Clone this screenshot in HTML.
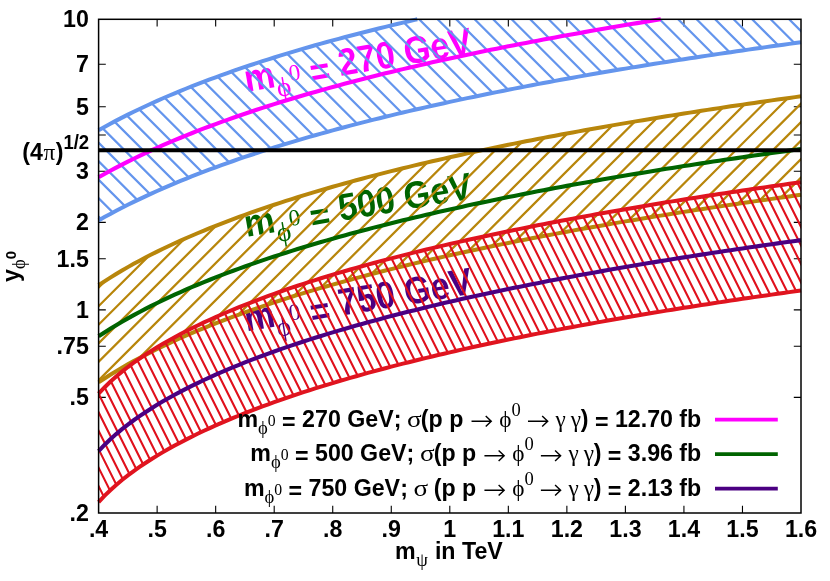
<!DOCTYPE html>
<html><head><meta charset="utf-8"><title>plot</title>
<style>
html,body{margin:0;padding:0;background:#fff;}
svg{display:block;will-change:transform;}
text{fill:#000;}
</style></head><body>
<svg width="830" height="581" viewBox="0 0 830 581">
<rect width="830" height="581" fill="#fff"/>
<defs>
<clipPath id="plot"><rect x="98.6" y="19.3" width="702.4" height="493.7"/></clipPath>
<clipPath id="plotw"><rect x="95.6" y="16.3" width="708.4" height="499.7"/></clipPath>
<clipPath id="cb"><path d="M92.75,133.57 L98.60,130.20 L104.45,126.92 L110.31,123.73 L116.16,120.62 L122.01,117.60 L127.87,114.64 L133.72,111.76 L139.57,108.94 L145.43,106.19 L151.28,103.50 L157.13,100.86 L162.99,98.29 L168.84,95.76 L174.69,93.29 L180.55,90.87 L186.40,88.49 L192.25,86.16 L198.11,83.87 L203.96,81.63 L209.81,79.42 L215.67,77.26 L221.52,75.13 L227.37,73.04 L233.23,70.98 L239.08,68.96 L244.93,66.97 L250.79,65.01 L256.64,63.08 L262.49,61.18 L268.35,59.31 L274.20,57.47 L280.05,55.65 L285.91,53.86 L291.76,52.10 L297.61,50.36 L303.47,48.65 L309.32,46.96 L315.17,45.29 L321.03,43.64 L326.88,42.02 L332.73,40.42 L338.59,38.83 L344.44,37.27 L350.29,35.73 L356.15,34.20 L362.00,32.70 L367.85,31.21 L373.71,29.74 L379.56,28.28 L385.41,26.85 L391.27,25.43 L397.12,24.02 L402.97,22.63 L408.83,21.26 L414.68,19.90 L420.53,18.56 L426.39,17.23 L432.24,15.92 L438.09,14.61 L443.95,13.33 L449.80,12.05 L455.65,10.79 L461.51,9.54 L467.36,8.30 L473.21,7.08 L479.07,5.87 L484.92,4.66 L490.77,3.48 L496.63,2.30 L502.48,1.13 L508.33,-0.03 L514.19,-1.17 L520.04,-2.31 L525.89,-3.43 L531.75,-4.55 L537.60,-5.65 L543.45,-6.75 L549.31,-7.84 L555.16,-8.91 L561.01,-9.98 L566.87,-11.04 L572.72,-12.09 L578.57,-13.13 L584.43,-14.16 L590.28,-15.19 L596.13,-16.20 L601.99,-17.21 L607.84,-18.21 L613.69,-19.20 L619.55,-20.18 L625.40,-21.16 L631.25,-22.13 L637.11,-23.09 L642.96,-24.04 L648.81,-24.99 L654.67,-25.93 L660.52,-26.86 L666.37,-27.79 L672.23,-28.71 L678.08,-29.62 L683.93,-30.52 L689.79,-31.42 L695.64,-32.31 L701.49,-33.20 L707.35,-34.08 L713.20,-34.95 L719.05,-35.82 L724.91,-36.68 L730.76,-37.54 L736.61,-38.39 L742.47,-39.23 L748.32,-40.07 L754.17,-40.90 L760.03,-41.73 L765.88,-42.55 L771.73,-43.37 L777.59,-44.18 L783.44,-44.99 L789.29,-45.79 L795.15,-46.59 L801.00,-47.38 L806.85,-48.16 L806.85,41.51 L801.00,42.30 L795.15,43.09 L789.29,43.89 L783.44,44.70 L777.59,45.50 L771.73,46.32 L765.88,47.14 L760.03,47.96 L754.17,48.79 L748.32,49.63 L742.47,50.47 L736.61,51.32 L730.76,52.17 L724.91,53.03 L719.05,53.89 L713.20,54.76 L707.35,55.64 L701.49,56.52 L695.64,57.41 L689.79,58.30 L683.93,59.21 L678.08,60.11 L672.23,61.03 L666.37,61.95 L660.52,62.88 L654.67,63.81 L648.81,64.75 L642.96,65.70 L637.11,66.66 L631.25,67.62 L625.40,68.60 L619.55,69.57 L613.69,70.56 L607.84,71.56 L601.99,72.56 L596.13,73.57 L590.28,74.59 L584.43,75.61 L578.57,76.65 L572.72,77.69 L566.87,78.75 L561.01,79.81 L555.16,80.88 L549.31,81.96 L543.45,83.05 L537.60,84.15 L531.75,85.26 L525.89,86.37 L520.04,87.50 L514.19,88.64 L508.33,89.79 L502.48,90.95 L496.63,92.12 L490.77,93.30 L484.92,94.50 L479.07,95.70 L473.21,96.92 L467.36,98.15 L461.51,99.39 L455.65,100.64 L449.80,101.91 L443.95,103.18 L438.09,104.48 L432.24,105.78 L426.39,107.10 L420.53,108.43 L414.68,109.78 L408.83,111.14 L402.97,112.52 L397.12,113.91 L391.27,115.32 L385.41,116.75 L379.56,118.19 L373.71,119.64 L367.85,121.12 L362.00,122.61 L356.15,124.12 L350.29,125.65 L344.44,127.20 L338.59,128.77 L332.73,130.35 L326.88,131.96 L321.03,133.59 L315.17,135.24 L309.32,136.92 L303.47,138.61 L297.61,140.33 L291.76,142.07 L285.91,143.84 L280.05,145.64 L274.20,147.46 L268.35,149.30 L262.49,151.18 L256.64,153.08 L250.79,155.02 L244.93,156.98 L239.08,158.98 L233.23,161.01 L227.37,163.07 L221.52,165.17 L215.67,167.30 L209.81,169.48 L203.96,171.69 L198.11,173.94 L192.25,176.23 L186.40,178.57 L180.55,180.95 L174.69,183.38 L168.84,185.86 L162.99,188.39 L157.13,190.98 L151.28,193.62 L145.43,196.32 L139.57,199.08 L133.72,201.90 L127.87,204.80 L122.01,207.76 L116.16,210.80 L110.31,213.91 L104.45,217.11 L98.60,220.40 L92.75,223.78 Z"/></clipPath>
<clipPath id="cg"><path d="M92.75,289.22 L98.60,285.20 L104.45,281.33 L110.31,277.60 L116.16,274.00 L122.01,270.51 L127.87,267.13 L133.72,263.86 L139.57,260.67 L145.43,257.58 L151.28,254.57 L157.13,251.64 L162.99,248.78 L168.84,246.00 L174.69,243.28 L180.55,240.62 L186.40,238.02 L192.25,235.49 L198.11,233.00 L203.96,230.57 L209.81,228.19 L215.67,225.85 L221.52,223.56 L227.37,221.31 L233.23,219.11 L239.08,216.95 L244.93,214.82 L250.79,212.74 L256.64,210.68 L262.49,208.67 L268.35,206.68 L274.20,204.73 L280.05,202.81 L285.91,200.92 L291.76,199.06 L297.61,197.23 L303.47,195.43 L309.32,193.65 L315.17,191.90 L321.03,190.17 L326.88,188.47 L332.73,186.79 L338.59,185.13 L344.44,183.50 L350.29,181.89 L356.15,180.29 L362.00,178.72 L367.85,177.17 L373.71,175.64 L379.56,174.13 L385.41,172.63 L391.27,171.16 L397.12,169.70 L402.97,168.26 L408.83,166.83 L414.68,165.42 L420.53,164.03 L426.39,162.65 L432.24,161.29 L438.09,159.94 L443.95,158.61 L449.80,157.29 L455.65,155.99 L461.51,154.70 L467.36,153.42 L473.21,152.15 L479.07,150.90 L484.92,149.66 L490.77,148.44 L496.63,147.22 L502.48,146.02 L508.33,144.83 L514.19,143.65 L520.04,142.48 L525.89,141.32 L531.75,140.17 L537.60,139.03 L543.45,137.91 L549.31,136.79 L555.16,135.68 L561.01,134.59 L566.87,133.50 L572.72,132.42 L578.57,131.35 L584.43,130.29 L590.28,129.24 L596.13,128.20 L601.99,127.16 L607.84,126.14 L613.69,125.12 L619.55,124.11 L625.40,123.11 L631.25,122.12 L637.11,121.14 L642.96,120.16 L648.81,119.19 L654.67,118.23 L660.52,117.27 L666.37,116.33 L672.23,115.38 L678.08,114.45 L683.93,113.53 L689.79,112.61 L695.64,111.69 L701.49,110.79 L707.35,109.89 L713.20,108.99 L719.05,108.11 L724.91,107.22 L730.76,106.35 L736.61,105.48 L742.47,104.62 L748.32,103.76 L754.17,102.91 L760.03,102.06 L765.88,101.22 L771.73,100.39 L777.59,99.56 L783.44,98.74 L789.29,97.92 L795.15,97.11 L801.00,96.30 L806.85,95.50 L806.85,194.00 L801.00,194.80 L795.15,195.60 L789.29,196.41 L783.44,197.22 L777.59,198.04 L771.73,198.86 L765.88,199.69 L760.03,200.52 L754.17,201.36 L748.32,202.20 L742.47,203.05 L736.61,203.91 L730.76,204.77 L724.91,205.64 L719.05,206.51 L713.20,207.39 L707.35,208.28 L701.49,209.17 L695.64,210.07 L689.79,210.98 L683.93,211.89 L678.08,212.81 L672.23,213.74 L666.37,214.67 L660.52,215.61 L654.67,216.56 L648.81,217.51 L642.96,218.47 L637.11,219.44 L631.25,220.42 L625.40,221.40 L619.55,222.40 L613.69,223.40 L607.84,224.41 L601.99,225.42 L596.13,226.45 L590.28,227.48 L584.43,228.53 L578.57,229.58 L572.72,230.64 L566.87,231.71 L561.01,232.79 L555.16,233.88 L549.31,234.97 L543.45,236.08 L537.60,237.20 L531.75,238.33 L525.89,239.47 L520.04,240.62 L514.19,241.78 L508.33,242.95 L502.48,244.13 L496.63,245.32 L490.77,246.53 L484.92,247.75 L479.07,248.98 L473.21,250.22 L467.36,251.47 L461.51,252.74 L455.65,254.02 L449.80,255.32 L443.95,256.63 L438.09,257.95 L432.24,259.28 L426.39,260.64 L420.53,262.00 L414.68,263.39 L408.83,264.78 L402.97,266.20 L397.12,267.63 L391.27,269.08 L385.41,270.54 L379.56,272.02 L373.71,273.53 L367.85,275.05 L362.00,276.58 L356.15,278.14 L350.29,279.72 L344.44,281.32 L338.59,282.95 L332.73,284.59 L326.88,286.26 L321.03,287.95 L315.17,289.66 L309.32,291.40 L303.47,293.16 L297.61,294.95 L291.76,296.77 L285.91,298.62 L280.05,300.49 L274.20,302.40 L268.35,304.33 L262.49,306.30 L256.64,308.30 L250.79,310.34 L244.93,312.41 L239.08,314.52 L233.23,316.67 L227.37,318.86 L221.52,321.09 L215.67,323.36 L209.81,325.68 L203.96,328.04 L198.11,330.46 L192.25,332.92 L186.40,335.45 L180.55,338.02 L174.69,340.66 L168.84,343.36 L162.99,346.13 L157.13,348.97 L151.28,351.88 L145.43,354.86 L139.57,357.94 L133.72,361.10 L127.87,364.35 L122.01,367.71 L116.16,371.17 L110.31,374.75 L104.45,378.46 L98.60,382.30 L92.75,386.29 Z"/></clipPath>
<clipPath id="cr"><path d="M92.75,400.72 L98.60,393.70 L104.45,387.46 L110.31,381.79 L116.16,376.55 L122.01,371.65 L127.87,367.05 L133.72,362.70 L139.57,358.57 L145.43,354.63 L151.28,350.85 L157.13,347.23 L162.99,343.75 L168.84,340.40 L174.69,337.16 L180.55,334.03 L186.40,330.99 L192.25,328.05 L198.11,325.19 L203.96,322.41 L209.81,319.70 L215.67,317.07 L221.52,314.50 L227.37,311.99 L233.23,309.54 L239.08,307.15 L244.93,304.81 L250.79,302.52 L256.64,300.28 L262.49,298.09 L268.35,295.94 L274.20,293.83 L280.05,291.76 L285.91,289.73 L291.76,287.73 L297.61,285.77 L303.47,283.85 L309.32,281.95 L315.17,280.09 L321.03,278.26 L326.88,276.46 L332.73,274.69 L338.59,272.94 L344.44,271.23 L350.29,269.53 L356.15,267.86 L362.00,266.22 L367.85,264.60 L373.71,263.00 L379.56,261.42 L385.41,259.87 L391.27,258.33 L397.12,256.82 L402.97,255.32 L408.83,253.85 L414.68,252.39 L420.53,250.95 L426.39,249.53 L432.24,248.12 L438.09,246.74 L443.95,245.36 L449.80,244.01 L455.65,242.67 L461.51,241.34 L467.36,240.03 L473.21,238.73 L479.07,237.45 L484.92,236.18 L490.77,234.93 L496.63,233.68 L502.48,232.46 L508.33,231.24 L514.19,230.03 L520.04,228.84 L525.89,227.66 L531.75,226.49 L537.60,225.33 L543.45,224.19 L549.31,223.05 L555.16,221.93 L561.01,220.81 L566.87,219.71 L572.72,218.61 L578.57,217.53 L584.43,216.46 L590.28,215.39 L596.13,214.33 L601.99,213.29 L607.84,212.25 L613.69,211.22 L619.55,210.20 L625.40,209.19 L631.25,208.19 L637.11,207.19 L642.96,206.20 L648.81,205.23 L654.67,204.25 L660.52,203.29 L666.37,202.34 L672.23,201.39 L678.08,200.45 L683.93,199.51 L689.79,198.59 L695.64,197.67 L701.49,196.75 L707.35,195.85 L713.20,194.95 L719.05,194.06 L724.91,193.17 L730.76,192.29 L736.61,191.42 L742.47,190.55 L748.32,189.69 L754.17,188.83 L760.03,187.98 L765.88,187.14 L771.73,186.30 L777.59,185.47 L783.44,184.65 L789.29,183.83 L795.15,183.01 L801.00,182.20 L806.85,181.40 L806.85,289.70 L801.00,290.50 L795.15,291.31 L789.29,292.13 L783.44,292.95 L777.59,293.77 L771.73,294.61 L765.88,295.44 L760.03,296.29 L754.17,297.14 L748.32,297.99 L742.47,298.85 L736.61,299.72 L730.76,300.60 L724.91,301.48 L719.05,302.36 L713.20,303.26 L707.35,304.16 L701.49,305.06 L695.64,305.98 L689.79,306.90 L683.93,307.82 L678.08,308.76 L672.23,309.70 L666.37,310.65 L660.52,311.60 L654.67,312.57 L648.81,313.54 L642.96,314.52 L637.11,315.51 L631.25,316.50 L625.40,317.50 L619.55,318.52 L613.69,319.54 L607.84,320.57 L601.99,321.61 L596.13,322.65 L590.28,323.71 L584.43,324.77 L578.57,325.85 L572.72,326.93 L566.87,328.03 L561.01,329.13 L555.16,330.25 L549.31,331.38 L543.45,332.51 L537.60,333.66 L531.75,334.82 L525.89,335.99 L520.04,337.17 L514.19,338.36 L508.33,339.57 L502.48,340.78 L496.63,342.01 L490.77,343.26 L484.92,344.51 L479.07,345.78 L473.21,347.06 L467.36,348.36 L461.51,349.67 L455.65,351.00 L449.80,352.34 L443.95,353.70 L438.09,355.07 L432.24,356.46 L426.39,357.87 L420.53,359.29 L414.68,360.73 L408.83,362.19 L402.97,363.66 L397.12,365.16 L391.27,366.67 L385.41,368.21 L379.56,369.77 L373.71,371.34 L367.85,372.94 L362.00,374.57 L356.15,376.21 L350.29,377.88 L344.44,379.57 L338.59,381.29 L332.73,383.04 L326.88,384.81 L321.03,386.62 L315.17,388.45 L309.32,390.31 L303.47,392.20 L297.61,394.13 L291.76,396.09 L285.91,398.08 L280.05,400.12 L274.20,402.19 L268.35,404.30 L262.49,406.45 L256.64,408.65 L250.79,410.89 L244.93,413.18 L239.08,415.52 L233.23,417.91 L227.37,420.36 L221.52,422.87 L215.67,425.44 L209.81,428.08 L203.96,430.78 L198.11,433.56 L192.25,436.42 L186.40,439.37 L180.55,442.40 L174.69,445.54 L168.84,448.78 L162.99,452.14 L157.13,455.62 L151.28,459.24 L145.43,463.01 L139.57,466.96 L133.72,471.09 L127.87,475.44 L122.01,480.05 L116.16,484.94 L110.31,490.19 L104.45,495.86 L98.60,502.10 L92.75,509.12 Z"/></clipPath>
</defs>
<path d="M157.13,513.00 v-7.2 M157.13,19.30 v7.2 M215.67,513.00 v-7.2 M215.67,19.30 v7.2 M274.20,513.00 v-7.2 M274.20,19.30 v7.2 M332.73,513.00 v-7.2 M332.73,19.30 v7.2 M391.27,513.00 v-7.2 M391.27,19.30 v7.2 M449.80,513.00 v-7.2 M449.80,19.30 v7.2 M508.33,513.00 v-7.2 M508.33,19.30 v7.2 M566.87,513.00 v-7.2 M566.87,19.30 v7.2 M625.40,513.00 v-7.2 M625.40,19.30 v7.2 M683.93,513.00 v-7.2 M683.93,19.30 v7.2 M742.47,513.00 v-7.2 M742.47,19.30 v7.2 M98.60,64.31 h7.2 M801.00,64.31 h-7.2 M98.60,106.78 h7.2 M801.00,106.78 h-7.2 M98.60,134.94 h7.2 M801.00,134.94 h-7.2 M98.60,171.24 h7.2 M801.00,171.24 h-7.2 M98.60,222.41 h7.2 M801.00,222.41 h-7.2 M98.60,258.72 h7.2 M801.00,258.72 h-7.2 M98.60,309.89 h7.2 M801.00,309.89 h-7.2 M98.60,346.19 h7.2 M801.00,346.19 h-7.2 M98.60,397.36 h7.2 M801.00,397.36 h-7.2" stroke="#000" stroke-width="1.1" fill="none"/>
<g transform="translate(246.5,92.1) rotate(-9.70)"><text transform="translate(0.00,0.00) scale(1,1.110)" style="font-family:'Liberation Sans',sans-serif;font-weight:bold;font-size:34.22px;fill:#ff00ff">m</text>
<text x="37.56" y="10.27" text-anchor="middle" style="font-family:'Liberation Serif',serif;font-weight:normal;font-size:27.38px;fill:#ff00ff">ϕ</text>
<text x="50.51" y="-3.42" text-anchor="middle" style="font-family:'Liberation Serif',serif;font-weight:normal;font-size:23.27px;fill:#ff00ff">0</text>
<text transform="translate(56.32,0.00) scale(1,1.110)" style="font-family:'Liberation Sans',sans-serif;font-weight:bold;font-size:34.22px;fill:#ff00ff"> </text>
<text transform="translate(65.83,4.79) scale(1,1.110)" style="font-family:'Liberation Sans',sans-serif;font-weight:bold;font-size:34.22px;fill:#ff00ff">=</text>
<text transform="translate(85.82,0.00) scale(1,1.110)" style="font-family:'Liberation Sans',sans-serif;font-weight:bold;font-size:34.22px;fill:#ff00ff"> 270 GeV</text></g><g transform="translate(246.5,237.1) rotate(-9.70)"><text transform="translate(0.00,0.00) scale(1,1.110)" style="font-family:'Liberation Sans',sans-serif;font-weight:bold;font-size:34.22px;fill:#006400">m</text>
<text x="37.56" y="10.27" text-anchor="middle" style="font-family:'Liberation Serif',serif;font-weight:normal;font-size:27.38px;fill:#006400">ϕ</text>
<text x="50.51" y="-3.42" text-anchor="middle" style="font-family:'Liberation Serif',serif;font-weight:normal;font-size:23.27px;fill:#006400">0</text>
<text transform="translate(56.32,0.00) scale(1,1.110)" style="font-family:'Liberation Sans',sans-serif;font-weight:bold;font-size:34.22px;fill:#006400"> </text>
<text transform="translate(65.83,4.79) scale(1,1.110)" style="font-family:'Liberation Sans',sans-serif;font-weight:bold;font-size:34.22px;fill:#006400">=</text>
<text transform="translate(85.82,0.00) scale(1,1.110)" style="font-family:'Liberation Sans',sans-serif;font-weight:bold;font-size:34.22px;fill:#006400"> 500 GeV</text></g><g transform="translate(246.5,331.6) rotate(-9.50)"><text transform="translate(0.00,0.00) scale(1,1.110)" style="font-family:'Liberation Sans',sans-serif;font-weight:bold;font-size:34.22px;fill:#4b0082">m</text>
<text x="37.56" y="10.27" text-anchor="middle" style="font-family:'Liberation Serif',serif;font-weight:normal;font-size:27.38px;fill:#4b0082">ϕ</text>
<text x="50.51" y="-3.42" text-anchor="middle" style="font-family:'Liberation Serif',serif;font-weight:normal;font-size:23.27px;fill:#4b0082">0</text>
<text transform="translate(56.32,0.00) scale(1,1.110)" style="font-family:'Liberation Sans',sans-serif;font-weight:bold;font-size:34.22px;fill:#4b0082"> </text>
<text transform="translate(65.83,4.79) scale(1,1.110)" style="font-family:'Liberation Sans',sans-serif;font-weight:bold;font-size:34.22px;fill:#4b0082">=</text>
<text transform="translate(85.82,0.00) scale(1,1.110)" style="font-family:'Liberation Sans',sans-serif;font-weight:bold;font-size:34.22px;fill:#4b0082"> 750 GeV</text></g>
<g clip-path="url(#plot)"><g clip-path="url(#cb)"><path d="M93.60,-713.30 L806.00,-0.90 M93.60,-694.80 L806.00,17.60 M93.60,-676.30 L806.00,36.10 M93.60,-657.80 L806.00,54.60 M93.60,-639.30 L806.00,73.10 M93.60,-620.80 L806.00,91.60 M93.60,-602.30 L806.00,110.10 M93.60,-583.80 L806.00,128.60 M93.60,-565.30 L806.00,147.10 M93.60,-546.80 L806.00,165.60 M93.60,-528.30 L806.00,184.10 M93.60,-509.80 L806.00,202.60 M93.60,-491.30 L806.00,221.10 M93.60,-472.80 L806.00,239.60 M93.60,-454.30 L806.00,258.10 M93.60,-435.80 L806.00,276.60 M93.60,-417.30 L806.00,295.10 M93.60,-398.80 L806.00,313.60 M93.60,-380.30 L806.00,332.10 M93.60,-361.80 L806.00,350.60 M93.60,-343.30 L806.00,369.10 M93.60,-324.80 L806.00,387.60 M93.60,-306.30 L806.00,406.10 M93.60,-287.80 L806.00,424.60 M93.60,-269.30 L806.00,443.10 M93.60,-250.80 L806.00,461.60 M93.60,-232.30 L806.00,480.10 M93.60,-213.80 L806.00,498.60 M93.60,-195.30 L806.00,517.10 M93.60,-176.80 L806.00,535.60 M93.60,-158.30 L806.00,554.10 M93.60,-139.80 L806.00,572.60 M93.60,-121.30 L806.00,591.10 M93.60,-102.80 L806.00,609.60 M93.60,-84.30 L806.00,628.10 M93.60,-65.80 L806.00,646.60 M93.60,-47.30 L806.00,665.10 M93.60,-28.80 L806.00,683.60 M93.60,-10.30 L806.00,702.10 M93.60,8.20 L806.00,720.60 M93.60,26.70 L806.00,739.10 M93.60,45.20 L806.00,757.60 M93.60,63.70 L806.00,776.10 M93.60,82.20 L806.00,794.60 M93.60,100.70 L806.00,813.10 M93.60,119.20 L806.00,831.60 M93.60,137.70 L806.00,850.10 M93.60,156.20 L806.00,868.60 M93.60,174.70 L806.00,887.10 M93.60,193.20 L806.00,905.60 M93.60,211.70 L806.00,924.10 M93.60,230.20 L806.00,942.60 M93.60,248.70 L806.00,961.10 M93.60,267.20 L806.00,979.60 M93.60,285.70 L806.00,998.10 M93.60,304.20 L806.00,1016.60 M93.60,322.70 L806.00,1035.10 M93.60,341.20 L806.00,1053.60 M93.60,359.70 L806.00,1072.10 M93.60,378.20 L806.00,1090.60 M93.60,396.70 L806.00,1109.10 M93.60,415.20 L806.00,1127.60 M93.60,433.70 L806.00,1146.10 M93.60,452.20 L806.00,1164.60 M93.60,470.70 L806.00,1183.10 M93.60,489.20 L806.00,1201.60 M93.60,507.70 L806.00,1220.10 M93.60,526.20 L806.00,1238.60" stroke="#6495ed" stroke-width="2.2" fill="none"/></g></g>
<g clip-path="url(#plotw)">
 <path d="M98.60,130.20 L104.45,126.92 L110.31,123.73 L116.16,120.62 L122.01,117.60 L127.87,114.64 L133.72,111.76 L139.57,108.94 L145.43,106.19 L151.28,103.50 L157.13,100.86 L162.99,98.29 L168.84,95.76 L174.69,93.29 L180.55,90.87 L186.40,88.49 L192.25,86.16 L198.11,83.87 L203.96,81.63 L209.81,79.42 L215.67,77.26 L221.52,75.13 L227.37,73.04 L233.23,70.98 L239.08,68.96 L244.93,66.97 L250.79,65.01 L256.64,63.08 L262.49,61.18 L268.35,59.31 L274.20,57.47 L280.05,55.65 L285.91,53.86 L291.76,52.10 L297.61,50.36 L303.47,48.65 L309.32,46.96 L315.17,45.29 L321.03,43.64 L326.88,42.02 L332.73,40.42 L338.59,38.83 L344.44,37.27 L350.29,35.73 L356.15,34.20 L362.00,32.70 L367.85,31.21 L373.71,29.74 L379.56,28.28 L385.41,26.85 L391.27,25.43 L397.12,24.02 L402.97,22.63 L408.83,21.26 L414.68,19.90 L417.31,19.30" stroke="#6495ed" stroke-width="4.0" fill="none"/>
 <path d="M98.60,220.40 L104.45,217.11 L110.31,213.91 L116.16,210.80 L122.01,207.76 L127.87,204.80 L133.72,201.90 L139.57,199.08 L145.43,196.32 L151.28,193.62 L157.13,190.98 L162.99,188.39 L168.84,185.86 L174.69,183.38 L180.55,180.95 L186.40,178.57 L192.25,176.23 L198.11,173.94 L203.96,171.69 L209.81,169.48 L215.67,167.30 L221.52,165.17 L227.37,163.07 L233.23,161.01 L239.08,158.98 L244.93,156.98 L250.79,155.02 L256.64,153.08 L262.49,151.18 L268.35,149.30 L274.20,147.46 L280.05,145.64 L285.91,143.84 L291.76,142.07 L297.61,140.33 L303.47,138.61 L309.32,136.92 L315.17,135.24 L321.03,133.59 L326.88,131.96 L332.73,130.35 L338.59,128.77 L344.44,127.20 L350.29,125.65 L356.15,124.12 L362.00,122.61 L367.85,121.12 L373.71,119.64 L379.56,118.19 L385.41,116.75 L391.27,115.32 L397.12,113.91 L402.97,112.52 L408.83,111.14 L414.68,109.78 L420.53,108.43 L426.39,107.10 L432.24,105.78 L438.09,104.48 L443.95,103.18 L449.80,101.91 L455.65,100.64 L461.51,99.39 L467.36,98.15 L473.21,96.92 L479.07,95.70 L484.92,94.50 L490.77,93.30 L496.63,92.12 L502.48,90.95 L508.33,89.79 L514.19,88.64 L520.04,87.50 L525.89,86.37 L531.75,85.26 L537.60,84.15 L543.45,83.05 L549.31,81.96 L555.16,80.88 L561.01,79.81 L566.87,78.75 L572.72,77.69 L578.57,76.65 L584.43,75.61 L590.28,74.59 L596.13,73.57 L601.99,72.56 L607.84,71.56 L613.69,70.56 L619.55,69.57 L625.40,68.60 L631.25,67.62 L637.11,66.66 L642.96,65.70 L648.81,64.75 L654.67,63.81 L660.52,62.88 L666.37,61.95 L672.23,61.03 L678.08,60.11 L683.93,59.21 L689.79,58.30 L695.64,57.41 L701.49,56.52 L707.35,55.64 L713.20,54.76 L719.05,53.89 L724.91,53.03 L730.76,52.17 L736.61,51.32 L742.47,50.47 L748.32,49.63 L754.17,48.79 L760.03,47.96 L765.88,47.14 L771.73,46.32 L777.59,45.50 L783.44,44.70 L789.29,43.89 L795.15,43.09 L801.00,42.30" stroke="#6495ed" stroke-width="4.0" fill="none"/>
</g>
<g clip-path="url(#plot)"><g clip-path="url(#cg)"><path d="M93.60,-3.50 L806.00,-715.90 M93.60,15.01 L806.00,-697.39 M93.60,33.52 L806.00,-678.88 M93.60,52.03 L806.00,-660.37 M93.60,70.54 L806.00,-641.86 M93.60,89.05 L806.00,-623.35 M93.60,107.56 L806.00,-604.84 M93.60,126.07 L806.00,-586.33 M93.60,144.58 L806.00,-567.82 M93.60,163.09 L806.00,-549.31 M93.60,181.60 L806.00,-530.80 M93.60,200.11 L806.00,-512.29 M93.60,218.62 L806.00,-493.78 M93.60,237.13 L806.00,-475.27 M93.60,255.64 L806.00,-456.76 M93.60,274.15 L806.00,-438.25 M93.60,292.66 L806.00,-419.74 M93.60,311.17 L806.00,-401.23 M93.60,329.68 L806.00,-382.72 M93.60,348.19 L806.00,-364.21 M93.60,366.70 L806.00,-345.70 M93.60,385.21 L806.00,-327.19 M93.60,403.72 L806.00,-308.68 M93.60,422.23 L806.00,-290.17 M93.60,440.74 L806.00,-271.66 M93.60,459.25 L806.00,-253.15 M93.60,477.76 L806.00,-234.64 M93.60,496.27 L806.00,-216.13 M93.60,514.78 L806.00,-197.62 M93.60,533.29 L806.00,-179.11 M93.60,551.80 L806.00,-160.60 M93.60,570.31 L806.00,-142.09 M93.60,588.82 L806.00,-123.58 M93.60,607.33 L806.00,-105.07 M93.60,625.84 L806.00,-86.56 M93.60,644.35 L806.00,-68.05 M93.60,662.86 L806.00,-49.54 M93.60,681.37 L806.00,-31.03 M93.60,699.88 L806.00,-12.52 M93.60,718.39 L806.00,5.99 M93.60,736.90 L806.00,24.50 M93.60,755.41 L806.00,43.01 M93.60,773.92 L806.00,61.52 M93.60,792.43 L806.00,80.03 M93.60,810.94 L806.00,98.54 M93.60,829.45 L806.00,117.05 M93.60,847.96 L806.00,135.56 M93.60,866.47 L806.00,154.07 M93.60,884.98 L806.00,172.58 M93.60,903.49 L806.00,191.09 M93.60,922.00 L806.00,209.60 M93.60,940.51 L806.00,228.11 M93.60,959.02 L806.00,246.62 M93.60,977.53 L806.00,265.13 M93.60,996.04 L806.00,283.64 M93.60,1014.55 L806.00,302.15 M93.60,1033.06 L806.00,320.66 M93.60,1051.57 L806.00,339.17 M93.60,1070.08 L806.00,357.68 M93.60,1088.59 L806.00,376.19 M93.60,1107.10 L806.00,394.70 M93.60,1125.61 L806.00,413.21 M93.60,1144.12 L806.00,431.72 M93.60,1162.63 L806.00,450.23 M93.60,1181.14 L806.00,468.74 M93.60,1199.65 L806.00,487.25 M93.60,1218.16 L806.00,505.76 M93.60,1236.67 L806.00,524.27" stroke="#b8860b" stroke-width="2.25" fill="none"/></g></g>
<g clip-path="url(#plotw)">
 <path d="M98.60,285.20 L104.45,281.33 L110.31,277.60 L116.16,274.00 L122.01,270.51 L127.87,267.13 L133.72,263.86 L139.57,260.67 L145.43,257.58 L151.28,254.57 L157.13,251.64 L162.99,248.78 L168.84,246.00 L174.69,243.28 L180.55,240.62 L186.40,238.02 L192.25,235.49 L198.11,233.00 L203.96,230.57 L209.81,228.19 L215.67,225.85 L221.52,223.56 L227.37,221.31 L233.23,219.11 L239.08,216.95 L244.93,214.82 L250.79,212.74 L256.64,210.68 L262.49,208.67 L268.35,206.68 L274.20,204.73 L280.05,202.81 L285.91,200.92 L291.76,199.06 L297.61,197.23 L303.47,195.43 L309.32,193.65 L315.17,191.90 L321.03,190.17 L326.88,188.47 L332.73,186.79 L338.59,185.13 L344.44,183.50 L350.29,181.89 L356.15,180.29 L362.00,178.72 L367.85,177.17 L373.71,175.64 L379.56,174.13 L385.41,172.63 L391.27,171.16 L397.12,169.70 L402.97,168.26 L408.83,166.83 L414.68,165.42 L420.53,164.03 L426.39,162.65 L432.24,161.29 L438.09,159.94 L443.95,158.61 L449.80,157.29 L455.65,155.99 L461.51,154.70 L467.36,153.42 L473.21,152.15 L479.07,150.90 L484.92,149.66 L490.77,148.44 L496.63,147.22 L502.48,146.02 L508.33,144.83 L514.19,143.65 L520.04,142.48 L525.89,141.32 L531.75,140.17 L537.60,139.03 L543.45,137.91 L549.31,136.79 L555.16,135.68 L561.01,134.59 L566.87,133.50 L572.72,132.42 L578.57,131.35 L584.43,130.29 L590.28,129.24 L596.13,128.20 L601.99,127.16 L607.84,126.14 L613.69,125.12 L619.55,124.11 L625.40,123.11 L631.25,122.12 L637.11,121.14 L642.96,120.16 L648.81,119.19 L654.67,118.23 L660.52,117.27 L666.37,116.33 L672.23,115.38 L678.08,114.45 L683.93,113.53 L689.79,112.61 L695.64,111.69 L701.49,110.79 L707.35,109.89 L713.20,108.99 L719.05,108.11 L724.91,107.22 L730.76,106.35 L736.61,105.48 L742.47,104.62 L748.32,103.76 L754.17,102.91 L760.03,102.06 L765.88,101.22 L771.73,100.39 L777.59,99.56 L783.44,98.74 L789.29,97.92 L795.15,97.11 L801.00,96.30" stroke="#b8860b" stroke-width="4.0" fill="none"/>
 <path d="M98.60,382.30 L104.45,378.46 L110.31,374.75 L116.16,371.17 L122.01,367.71 L127.87,364.35 L133.72,361.10 L139.57,357.94 L145.43,354.86 L151.28,351.88 L157.13,348.97 L162.99,346.13 L168.84,343.36 L174.69,340.66 L180.55,338.02 L186.40,335.45 L192.25,332.92 L198.11,330.46 L203.96,328.04 L209.81,325.68 L215.67,323.36 L221.52,321.09 L227.37,318.86 L233.23,316.67 L239.08,314.52 L244.93,312.41 L250.79,310.34 L256.64,308.30 L262.49,306.30 L268.35,304.33 L274.20,302.40 L280.05,300.49 L285.91,298.62 L291.76,296.77 L297.61,294.95 L303.47,293.16 L309.32,291.40 L315.17,289.66 L321.03,287.95 L326.88,286.26 L332.73,284.59 L338.59,282.95 L344.44,281.32 L350.29,279.72 L356.15,278.14 L362.00,276.58 L367.85,275.05 L373.71,273.53 L379.56,272.02 L385.41,270.54 L391.27,269.08 L397.12,267.63 L402.97,266.20 L408.83,264.78 L414.68,263.39 L420.53,262.00 L426.39,260.64 L432.24,259.28 L438.09,257.95 L443.95,256.63 L449.80,255.32 L455.65,254.02 L461.51,252.74 L467.36,251.47 L473.21,250.22 L479.07,248.98 L484.92,247.75 L490.77,246.53 L496.63,245.32 L502.48,244.13 L508.33,242.95 L514.19,241.78 L520.04,240.62 L525.89,239.47 L531.75,238.33 L537.60,237.20 L543.45,236.08 L549.31,234.97 L555.16,233.88 L561.01,232.79 L566.87,231.71 L572.72,230.64 L578.57,229.58 L584.43,228.53 L590.28,227.48 L596.13,226.45 L601.99,225.42 L607.84,224.41 L613.69,223.40 L619.55,222.40 L625.40,221.40 L631.25,220.42 L637.11,219.44 L642.96,218.47 L648.81,217.51 L654.67,216.56 L660.52,215.61 L666.37,214.67 L672.23,213.74 L678.08,212.81 L683.93,211.89 L689.79,210.98 L695.64,210.07 L701.49,209.17 L707.35,208.28 L713.20,207.39 L719.05,206.51 L724.91,205.64 L730.76,204.77 L736.61,203.91 L742.47,203.05 L748.32,202.20 L754.17,201.36 L760.03,200.52 L765.88,199.69 L771.73,198.86 L777.59,198.04 L783.44,197.22 L789.29,196.41 L795.15,195.60 L801.00,194.80" stroke="#b8860b" stroke-width="4.0" fill="none"/>
</g>
<g clip-path="url(#plot)"><g clip-path="url(#cr)"><path d="M-155.84,14.30 L96.01,518.00 M-146.60,14.30 L105.25,518.00 M-137.35,14.30 L114.50,518.00 M-128.11,14.30 L123.74,518.00 M-118.86,14.30 L132.99,518.00 M-109.62,14.30 L142.23,518.00 M-100.37,14.30 L151.48,518.00 M-91.13,14.30 L160.72,518.00 M-81.88,14.30 L169.97,518.00 M-72.64,14.30 L179.21,518.00 M-63.39,14.30 L188.46,518.00 M-54.15,14.30 L197.70,518.00 M-44.90,14.30 L206.95,518.00 M-35.66,14.30 L216.19,518.00 M-26.41,14.30 L225.44,518.00 M-17.17,14.30 L234.68,518.00 M-7.92,14.30 L243.93,518.00 M1.32,14.30 L253.17,518.00 M10.57,14.30 L262.42,518.00 M19.81,14.30 L271.66,518.00 M29.06,14.30 L280.91,518.00 M38.30,14.30 L290.15,518.00 M47.55,14.30 L299.40,518.00 M56.79,14.30 L308.64,518.00 M66.03,14.30 L317.88,518.00 M75.28,14.30 L327.13,518.00 M84.53,14.30 L336.38,518.00 M93.77,14.30 L345.62,518.00 M103.02,14.30 L354.87,518.00 M112.26,14.30 L364.11,518.00 M121.51,14.30 L373.36,518.00 M130.75,14.30 L382.60,518.00 M140.00,14.30 L391.85,518.00 M149.24,14.30 L401.09,518.00 M158.49,14.30 L410.34,518.00 M167.73,14.30 L419.58,518.00 M176.98,14.30 L428.83,518.00 M186.22,14.30 L438.07,518.00 M195.47,14.30 L447.31,518.00 M204.71,14.30 L456.56,518.00 M213.96,14.30 L465.81,518.00 M223.20,14.30 L475.05,518.00 M232.45,14.30 L484.30,518.00 M241.69,14.30 L493.54,518.00 M250.94,14.30 L502.78,518.00 M260.18,14.30 L512.03,518.00 M269.42,14.30 L521.27,518.00 M278.67,14.30 L530.52,518.00 M287.91,14.30 L539.76,518.00 M297.16,14.30 L549.01,518.00 M306.40,14.30 L558.25,518.00 M315.65,14.30 L567.50,518.00 M324.89,14.30 L576.75,518.00 M334.14,14.30 L585.99,518.00 M343.38,14.30 L595.24,518.00 M352.63,14.30 L604.48,518.00 M361.88,14.30 L613.73,518.00 M371.12,14.30 L622.97,518.00 M380.36,14.30 L632.21,518.00 M389.61,14.30 L641.46,518.00 M398.85,14.30 L650.70,518.00 M408.10,14.30 L659.95,518.00 M417.34,14.30 L669.19,518.00 M426.59,14.30 L678.44,518.00 M435.83,14.30 L687.68,518.00 M445.08,14.30 L696.93,518.00 M454.32,14.30 L706.17,518.00 M463.57,14.30 L715.42,518.00 M472.81,14.30 L724.66,518.00 M482.06,14.30 L733.91,518.00 M491.30,14.30 L743.15,518.00 M500.55,14.30 L752.40,518.00 M509.79,14.30 L761.64,518.00 M519.04,14.30 L770.89,518.00 M528.28,14.30 L780.13,518.00 M537.53,14.30 L789.38,518.00 M546.77,14.30 L798.62,518.00 M556.02,14.30 L807.87,518.00 M565.26,14.30 L817.12,518.00 M574.51,14.30 L826.36,518.00 M583.75,14.30 L835.61,518.00 M593.00,14.30 L844.85,518.00 M602.25,14.30 L854.10,518.00 M611.49,14.30 L863.34,518.00 M620.74,14.30 L872.59,518.00 M629.98,14.30 L881.83,518.00 M639.22,14.30 L891.07,518.00 M648.47,14.30 L900.32,518.00 M657.71,14.30 L909.56,518.00 M666.96,14.30 L918.81,518.00 M676.20,14.30 L928.05,518.00 M685.45,14.30 L937.30,518.00 M694.69,14.30 L946.54,518.00 M703.94,14.30 L955.79,518.00 M713.18,14.30 L965.03,518.00 M722.43,14.30 L974.28,518.00 M731.67,14.30 L983.52,518.00 M740.92,14.30 L992.77,518.00 M750.16,14.30 L1002.01,518.00 M759.41,14.30 L1011.26,518.00 M768.65,14.30 L1020.50,518.00 M777.90,14.30 L1029.75,518.00 M787.14,14.30 L1038.99,518.00 M796.39,14.30 L1048.24,518.00 M805.63,14.30 L1057.48,518.00" stroke="#e0101c" stroke-width="2.1" fill="none"/></g></g>
<g clip-path="url(#plotw)">
 <path d="M98.60,393.70 L104.45,387.46 L110.31,381.79 L116.16,376.55 L122.01,371.65 L127.87,367.05 L133.72,362.70 L139.57,358.57 L145.43,354.63 L151.28,350.85 L157.13,347.23 L162.99,343.75 L168.84,340.40 L174.69,337.16 L180.55,334.03 L186.40,330.99 L192.25,328.05 L198.11,325.19 L203.96,322.41 L209.81,319.70 L215.67,317.07 L221.52,314.50 L227.37,311.99 L233.23,309.54 L239.08,307.15 L244.93,304.81 L250.79,302.52 L256.64,300.28 L262.49,298.09 L268.35,295.94 L274.20,293.83 L280.05,291.76 L285.91,289.73 L291.76,287.73 L297.61,285.77 L303.47,283.85 L309.32,281.95 L315.17,280.09 L321.03,278.26 L326.88,276.46 L332.73,274.69 L338.59,272.94 L344.44,271.23 L350.29,269.53 L356.15,267.86 L362.00,266.22 L367.85,264.60 L373.71,263.00 L379.56,261.42 L385.41,259.87 L391.27,258.33 L397.12,256.82 L402.97,255.32 L408.83,253.85 L414.68,252.39 L420.53,250.95 L426.39,249.53 L432.24,248.12 L438.09,246.74 L443.95,245.36 L449.80,244.01 L455.65,242.67 L461.51,241.34 L467.36,240.03 L473.21,238.73 L479.07,237.45 L484.92,236.18 L490.77,234.93 L496.63,233.68 L502.48,232.46 L508.33,231.24 L514.19,230.03 L520.04,228.84 L525.89,227.66 L531.75,226.49 L537.60,225.33 L543.45,224.19 L549.31,223.05 L555.16,221.93 L561.01,220.81 L566.87,219.71 L572.72,218.61 L578.57,217.53 L584.43,216.46 L590.28,215.39 L596.13,214.33 L601.99,213.29 L607.84,212.25 L613.69,211.22 L619.55,210.20 L625.40,209.19 L631.25,208.19 L637.11,207.19 L642.96,206.20 L648.81,205.23 L654.67,204.25 L660.52,203.29 L666.37,202.34 L672.23,201.39 L678.08,200.45 L683.93,199.51 L689.79,198.59 L695.64,197.67 L701.49,196.75 L707.35,195.85 L713.20,194.95 L719.05,194.06 L724.91,193.17 L730.76,192.29 L736.61,191.42 L742.47,190.55 L748.32,189.69 L754.17,188.83 L760.03,187.98 L765.88,187.14 L771.73,186.30 L777.59,185.47 L783.44,184.65 L789.29,183.83 L795.15,183.01 L801.00,182.20" stroke="#e0141f" stroke-width="4.0" fill="none"/>
 <path d="M98.60,502.10 L104.45,495.86 L110.31,490.19 L116.16,484.94 L122.01,480.05 L127.87,475.44 L133.72,471.09 L139.57,466.96 L145.43,463.01 L151.28,459.24 L157.13,455.62 L162.99,452.14 L168.84,448.78 L174.69,445.54 L180.55,442.40 L186.40,439.37 L192.25,436.42 L198.11,433.56 L203.96,430.78 L209.81,428.08 L215.67,425.44 L221.52,422.87 L227.37,420.36 L233.23,417.91 L239.08,415.52 L244.93,413.18 L250.79,410.89 L256.64,408.65 L262.49,406.45 L268.35,404.30 L274.20,402.19 L280.05,400.12 L285.91,398.08 L291.76,396.09 L297.61,394.13 L303.47,392.20 L309.32,390.31 L315.17,388.45 L321.03,386.62 L326.88,384.81 L332.73,383.04 L338.59,381.29 L344.44,379.57 L350.29,377.88 L356.15,376.21 L362.00,374.57 L367.85,372.94 L373.71,371.34 L379.56,369.77 L385.41,368.21 L391.27,366.67 L397.12,365.16 L402.97,363.66 L408.83,362.19 L414.68,360.73 L420.53,359.29 L426.39,357.87 L432.24,356.46 L438.09,355.07 L443.95,353.70 L449.80,352.34 L455.65,351.00 L461.51,349.67 L467.36,348.36 L473.21,347.06 L479.07,345.78 L484.92,344.51 L490.77,343.26 L496.63,342.01 L502.48,340.78 L508.33,339.57 L514.19,338.36 L520.04,337.17 L525.89,335.99 L531.75,334.82 L537.60,333.66 L543.45,332.51 L549.31,331.38 L555.16,330.25 L561.01,329.13 L566.87,328.03 L572.72,326.93 L578.57,325.85 L584.43,324.77 L590.28,323.71 L596.13,322.65 L601.99,321.61 L607.84,320.57 L613.69,319.54 L619.55,318.52 L625.40,317.50 L631.25,316.50 L637.11,315.51 L642.96,314.52 L648.81,313.54 L654.67,312.57 L660.52,311.60 L666.37,310.65 L672.23,309.70 L678.08,308.76 L683.93,307.82 L689.79,306.90 L695.64,305.98 L701.49,305.06 L707.35,304.16 L713.20,303.26 L719.05,302.36 L724.91,301.48 L730.76,300.60 L736.61,299.72 L742.47,298.85 L748.32,297.99 L754.17,297.14 L760.03,296.29 L765.88,295.44 L771.73,294.61 L777.59,293.77 L783.44,292.95 L789.29,292.13 L795.15,291.31 L801.00,290.50" stroke="#e0141f" stroke-width="4.0" fill="none"/>
 <path d="M98.60,177.30 L104.45,174.00 L110.31,170.80 L116.16,167.67 L122.01,164.63 L127.87,161.65 L133.72,158.75 L139.57,155.92 L145.43,153.15 L151.28,150.45 L157.13,147.80 L162.99,145.21 L168.84,142.67 L174.69,140.18 L180.55,137.75 L186.40,135.36 L192.25,133.01 L198.11,130.71 L203.96,128.46 L209.81,126.24 L215.67,124.06 L221.52,121.92 L227.37,119.82 L233.23,117.75 L239.08,115.71 L244.93,113.71 L250.79,111.74 L256.64,109.80 L262.49,107.89 L268.35,106.01 L274.20,104.16 L280.05,102.33 L285.91,100.54 L291.76,98.76 L297.61,97.01 L303.47,95.29 L309.32,93.59 L315.17,91.91 L321.03,90.26 L326.88,88.62 L332.73,87.01 L338.59,85.42 L344.44,83.85 L350.29,82.29 L356.15,80.76 L362.00,79.24 L367.85,77.75 L373.71,76.27 L379.56,74.81 L385.41,73.36 L391.27,71.93 L397.12,70.52 L402.97,69.13 L408.83,67.74 L414.68,66.38 L420.53,65.03 L426.39,63.69 L432.24,62.37 L438.09,61.06 L443.95,59.76 L449.80,58.48 L455.65,57.21 L461.51,55.96 L467.36,54.71 L473.21,53.48 L479.07,52.26 L484.92,51.05 L490.77,49.86 L496.63,48.67 L502.48,47.50 L508.33,46.33 L514.19,45.18 L520.04,44.04 L525.89,42.91 L531.75,41.79 L537.60,40.67 L543.45,39.57 L549.31,38.48 L555.16,37.40 L561.01,36.32 L566.87,35.26 L572.72,34.20 L578.57,33.15 L584.43,32.12 L590.28,31.09 L596.13,30.07 L601.99,29.05 L607.84,28.05 L613.69,27.05 L619.55,26.06 L625.40,25.08 L631.25,24.10 L637.11,23.14 L642.96,22.18 L648.81,21.23 L654.67,20.28 L660.52,19.34 L660.80,19.30" stroke="#ff00ff" stroke-width="4.1" fill="none"/>
 <path d="M98.60,336.30 L104.45,332.46 L110.31,328.76 L116.16,325.18 L122.01,321.72 L127.87,318.37 L133.72,315.12 L139.57,311.96 L145.43,308.89 L151.28,305.90 L157.13,303.00 L162.99,300.16 L168.84,297.40 L174.69,294.70 L180.55,292.07 L186.40,289.49 L192.25,286.97 L198.11,284.51 L203.96,282.10 L209.81,279.73 L215.67,277.42 L221.52,275.15 L227.37,272.92 L233.23,270.73 L239.08,268.59 L244.93,266.48 L250.79,264.41 L256.64,262.38 L262.49,260.38 L268.35,258.41 L274.20,256.48 L280.05,254.58 L285.91,252.70 L291.76,250.86 L297.61,249.04 L303.47,247.25 L309.32,245.49 L315.17,243.75 L321.03,242.04 L326.88,240.35 L332.73,238.69 L338.59,237.05 L344.44,235.43 L350.29,233.83 L356.15,232.25 L362.00,230.69 L367.85,229.16 L373.71,227.64 L379.56,226.14 L385.41,224.66 L391.27,223.19 L397.12,221.75 L402.97,220.32 L408.83,218.90 L414.68,217.51 L420.53,216.13 L426.39,214.76 L432.24,213.41 L438.09,212.08 L443.95,210.76 L449.80,209.45 L455.65,208.16 L461.51,206.88 L467.36,205.61 L473.21,204.36 L479.07,203.12 L484.92,201.89 L490.77,200.67 L496.63,199.47 L502.48,198.28 L508.33,197.09 L514.19,195.92 L520.04,194.77 L525.89,193.62 L531.75,192.48 L537.60,191.35 L543.45,190.24 L549.31,189.13 L555.16,188.03 L561.01,186.94 L566.87,185.87 L572.72,184.80 L578.57,183.74 L584.43,182.69 L590.28,181.65 L596.13,180.61 L601.99,179.59 L607.84,178.57 L613.69,177.57 L619.55,176.57 L625.40,175.57 L631.25,174.59 L637.11,173.61 L642.96,172.65 L648.81,171.69 L654.67,170.73 L660.52,169.79 L666.37,168.85 L672.23,167.91 L678.08,166.99 L683.93,166.07 L689.79,165.16 L695.64,164.25 L701.49,163.36 L707.35,162.46 L713.20,161.58 L719.05,160.70 L724.91,159.83 L730.76,158.96 L736.61,158.10 L742.47,157.24 L748.32,156.39 L754.17,155.55 L760.03,154.71 L765.88,153.88 L771.73,153.05 L777.59,152.23 L783.44,151.42 L789.29,150.61 L795.15,149.80 L801.00,149.00" stroke="#006400" stroke-width="4.1" fill="none"/>
 <path d="M98.60,451.20 L104.45,444.97 L110.31,439.30 L116.16,434.07 L122.01,429.18 L127.87,424.59 L133.72,420.24 L139.57,416.11 L145.43,412.18 L151.28,408.41 L157.13,404.80 L162.99,401.32 L168.84,397.97 L174.69,394.74 L180.55,391.61 L186.40,388.58 L192.25,385.64 L198.11,382.79 L203.96,380.02 L209.81,377.32 L215.67,374.69 L221.52,372.12 L227.37,369.62 L233.23,367.18 L239.08,364.79 L244.93,362.45 L250.79,360.17 L256.64,357.93 L262.49,355.74 L268.35,353.59 L274.20,351.49 L280.05,349.42 L285.91,347.39 L291.76,345.40 L297.61,343.45 L303.47,341.53 L309.32,339.64 L315.17,337.78 L321.03,335.96 L326.88,334.16 L332.73,332.39 L338.59,330.65 L344.44,328.93 L350.29,327.24 L356.15,325.58 L362.00,323.94 L367.85,322.32 L373.71,320.72 L379.56,319.15 L385.41,317.60 L391.27,316.07 L397.12,314.56 L402.97,313.06 L408.83,311.59 L414.68,310.14 L420.53,308.70 L426.39,307.28 L432.24,305.88 L438.09,304.49 L443.95,303.12 L449.80,301.77 L455.65,300.43 L461.51,299.11 L467.36,297.80 L473.21,296.51 L479.07,295.23 L484.92,293.96 L490.77,292.71 L496.63,291.47 L502.48,290.24 L508.33,289.03 L514.19,287.83 L520.04,286.64 L525.89,285.46 L531.75,284.29 L537.60,283.14 L543.45,282.00 L549.31,280.86 L555.16,279.74 L561.01,278.63 L566.87,277.53 L572.72,276.43 L578.57,275.35 L584.43,274.28 L590.28,273.22 L596.13,272.16 L601.99,271.12 L607.84,270.08 L613.69,269.06 L619.55,268.04 L625.40,267.03 L631.25,266.03 L637.11,265.04 L642.96,264.05 L648.81,263.07 L654.67,262.11 L660.52,261.14 L666.37,260.19 L672.23,259.25 L678.08,258.31 L683.93,257.37 L689.79,256.45 L695.64,255.53 L701.49,254.62 L707.35,253.72 L713.20,252.82 L719.05,251.93 L724.91,251.05 L730.76,250.17 L736.61,249.30 L742.47,248.43 L748.32,247.57 L754.17,246.72 L760.03,245.87 L765.88,245.03 L771.73,244.19 L777.59,243.36 L783.44,242.54 L789.29,241.72 L795.15,240.91 L801.00,240.10" stroke="#4b0082" stroke-width="4.1" fill="none"/>
 <path d="M98.6,150.18 H801.0" stroke="#000" stroke-width="4.0" fill="none"/>
</g>
<rect x="98.6" y="19.3" width="702.4" height="493.7" fill="none" stroke="#000" stroke-width="1.5"/>
<text transform="translate(88.80,27.20) scale(1,1.044)" text-anchor="end" style="font-family:'Liberation Sans',sans-serif;font-weight:bold;font-size:23.20px">10</text>
<text transform="translate(88.80,72.21) scale(1,1.044)" text-anchor="end" style="font-family:'Liberation Sans',sans-serif;font-weight:bold;font-size:23.20px">7</text>
<text transform="translate(88.80,114.68) scale(1,1.044)" text-anchor="end" style="font-family:'Liberation Sans',sans-serif;font-weight:bold;font-size:23.20px">5</text>
<text transform="translate(88.80,179.14) scale(1,1.044)" text-anchor="end" style="font-family:'Liberation Sans',sans-serif;font-weight:bold;font-size:23.20px">3</text>
<text transform="translate(88.80,230.31) scale(1,1.044)" text-anchor="end" style="font-family:'Liberation Sans',sans-serif;font-weight:bold;font-size:23.20px">2</text>
<text transform="translate(88.80,266.62) scale(1,1.044)" text-anchor="end" style="font-family:'Liberation Sans',sans-serif;font-weight:bold;font-size:23.20px">1.5</text>
<text transform="translate(88.80,317.79) scale(1,1.044)" text-anchor="end" style="font-family:'Liberation Sans',sans-serif;font-weight:bold;font-size:23.20px">1</text>
<text transform="translate(88.80,354.09) scale(1,1.044)" text-anchor="end" style="font-family:'Liberation Sans',sans-serif;font-weight:bold;font-size:23.20px">.75</text>
<text transform="translate(88.80,405.26) scale(1,1.044)" text-anchor="end" style="font-family:'Liberation Sans',sans-serif;font-weight:bold;font-size:23.20px">.5</text>
<text transform="translate(88.80,520.90) scale(1,1.044)" text-anchor="end" style="font-family:'Liberation Sans',sans-serif;font-weight:bold;font-size:23.20px">.2</text>
<text transform="translate(98.60,536.60) scale(1,1.044)" text-anchor="middle" style="font-family:'Liberation Sans',sans-serif;font-weight:bold;font-size:23.20px">.4</text>
<text transform="translate(157.13,536.60) scale(1,1.044)" text-anchor="middle" style="font-family:'Liberation Sans',sans-serif;font-weight:bold;font-size:23.20px">.5</text>
<text transform="translate(215.67,536.60) scale(1,1.044)" text-anchor="middle" style="font-family:'Liberation Sans',sans-serif;font-weight:bold;font-size:23.20px">.6</text>
<text transform="translate(274.20,536.60) scale(1,1.044)" text-anchor="middle" style="font-family:'Liberation Sans',sans-serif;font-weight:bold;font-size:23.20px">.7</text>
<text transform="translate(332.73,536.60) scale(1,1.044)" text-anchor="middle" style="font-family:'Liberation Sans',sans-serif;font-weight:bold;font-size:23.20px">.8</text>
<text transform="translate(391.27,536.60) scale(1,1.044)" text-anchor="middle" style="font-family:'Liberation Sans',sans-serif;font-weight:bold;font-size:23.20px">.9</text>
<text transform="translate(449.80,536.60) scale(1,1.044)" text-anchor="middle" style="font-family:'Liberation Sans',sans-serif;font-weight:bold;font-size:23.20px">1</text>
<text transform="translate(508.33,536.60) scale(1,1.044)" text-anchor="middle" style="font-family:'Liberation Sans',sans-serif;font-weight:bold;font-size:23.20px">1.1</text>
<text transform="translate(566.87,536.60) scale(1,1.044)" text-anchor="middle" style="font-family:'Liberation Sans',sans-serif;font-weight:bold;font-size:23.20px">1.2</text>
<text transform="translate(625.40,536.60) scale(1,1.044)" text-anchor="middle" style="font-family:'Liberation Sans',sans-serif;font-weight:bold;font-size:23.20px">1.3</text>
<text transform="translate(683.93,536.60) scale(1,1.044)" text-anchor="middle" style="font-family:'Liberation Sans',sans-serif;font-weight:bold;font-size:23.20px">1.4</text>
<text transform="translate(742.47,536.60) scale(1,1.044)" text-anchor="middle" style="font-family:'Liberation Sans',sans-serif;font-weight:bold;font-size:23.20px">1.5</text>
<text transform="translate(801.00,536.60) scale(1,1.044)" text-anchor="middle" style="font-family:'Liberation Sans',sans-serif;font-weight:bold;font-size:23.20px">1.6</text>
<text transform="translate(22.30,159.90) scale(1,1.044)" style="font-family:'Liberation Sans',sans-serif;font-weight:bold;font-size:23.20px;fill:#000">(4</text>
<text x="49.30" y="159.90" text-anchor="middle" style="font-family:'Liberation Serif',serif;font-weight:normal;font-size:23.20px;fill:#000">π</text>
<text transform="translate(55.67,159.90) scale(1,1.044)" style="font-family:'Liberation Sans',sans-serif;font-weight:bold;font-size:23.20px;fill:#000">)</text>
<text transform="translate(63.39,149.00) scale(1,1.044)" style="font-family:'Liberation Sans',sans-serif;font-weight:bold;font-size:18.56px;fill:#000">1/2</text>
<g transform="translate(18.7,281.9) rotate(-90)"><text transform="translate(0.00,0.00) scale(1,1.044)" style="font-family:'Liberation Sans',sans-serif;font-weight:bold;font-size:23.20px;fill:#000">y</text>
<text x="17.74" y="6.26" text-anchor="middle" style="font-family:'Liberation Serif',serif;font-weight:normal;font-size:18.56px;fill:#000">ϕ</text>
<text transform="translate(22.57,-2.32) scale(1,1.044)" style="font-family:'Liberation Sans',sans-serif;font-weight:bold;font-size:14.85px;fill:#000">0</text></g>
<text transform="translate(395.09,558.80) scale(1,1.044)" style="font-family:'Liberation Sans',sans-serif;font-weight:bold;font-size:23.20px;fill:#000">m</text>
<text x="422.09" y="565.76" text-anchor="middle" style="font-family:'Liberation Serif',serif;font-weight:normal;font-size:18.56px;fill:#000">ψ</text>
<text transform="translate(428.45,558.80) scale(1,1.044)" style="font-family:'Liberation Sans',sans-serif;font-weight:bold;font-size:23.20px;fill:#000"> in TeV</text>
<text transform="translate(237.47,426.60) scale(1,1.044)" style="font-family:'Liberation Sans',sans-serif;font-weight:bold;font-size:23.20px;fill:#000">m</text>
<text x="262.93" y="433.56" text-anchor="middle" style="font-family:'Liberation Serif',serif;font-weight:normal;font-size:18.56px;fill:#000">ϕ</text>
<text x="271.71" y="425.67" text-anchor="middle" style="font-family:'Liberation Serif',serif;font-weight:normal;font-size:15.78px;fill:#000">0</text>
<text transform="translate(275.65,426.60) scale(1,1.044)" style="font-family:'Liberation Sans',sans-serif;font-weight:bold;font-size:23.20px;fill:#000"> </text>
<text transform="translate(282.10,429.85) scale(1,1.044)" style="font-family:'Liberation Sans',sans-serif;font-weight:bold;font-size:23.20px;fill:#000">=</text>
<text transform="translate(295.65,426.60) scale(1,1.044)" style="font-family:'Liberation Sans',sans-serif;font-weight:bold;font-size:23.20px;fill:#000"> 270 GeV</text>
<text transform="translate(393.67,426.60) scale(1,1.044)" style="font-family:'Liberation Sans',sans-serif;font-weight:bold;font-size:23.20px;fill:#000">; </text>
<text transform="translate(414.37,426.60) scale(1.17,1)" text-anchor="middle" style="font-family:'Liberation Serif',serif;font-weight:normal;font-size:23.20px;fill:#000">σ</text>
<text transform="translate(420.83,426.60) scale(1,1.044)" style="font-family:'Liberation Sans',sans-serif;font-weight:bold;font-size:23.20px;fill:#000">(p p </text>
<path d="M471.53,421.22 H490.52 M485.73,416.00 L491.24,421.22 L485.73,426.44" stroke="#000" stroke-width="1.44" fill="none" stroke-linecap="butt"/>
<text x="505.46" y="426.60" text-anchor="middle" style="font-family:'Liberation Serif',serif;font-weight:normal;font-size:23.20px;fill:#000">ϕ</text>
<text x="516.15" y="415.70" text-anchor="middle" style="font-family:'Liberation Serif',serif;font-weight:normal;font-size:18.56px;fill:#000">0</text>
<path d="M527.98,421.22 H546.97 M542.18,416.00 L547.69,421.22 L542.18,426.44" stroke="#000" stroke-width="1.44" fill="none" stroke-linecap="butt"/>
<text x="560.63" y="426.60" text-anchor="middle" style="font-family:'Liberation Serif',serif;font-weight:normal;font-size:23.20px;fill:#000">γ</text>
<text x="575.97" y="426.60" text-anchor="middle" style="font-family:'Liberation Serif',serif;font-weight:normal;font-size:23.20px;fill:#000">γ</text>
<text transform="translate(580.73,426.60) scale(1,1.044)" style="font-family:'Liberation Sans',sans-serif;font-weight:bold;font-size:23.20px;fill:#000">) </text>
<text transform="translate(594.91,429.85) scale(1,1.044)" style="font-family:'Liberation Sans',sans-serif;font-weight:bold;font-size:23.20px;fill:#000">=</text>
<text transform="translate(608.45,426.60) scale(1,1.044)" style="font-family:'Liberation Sans',sans-serif;font-weight:bold;font-size:23.20px;fill:#000"> 12.70 fb</text><path d="M715.0,419.55 H777.8" stroke="#ff00ff" stroke-width="3.7" fill="none"/><text transform="translate(250.37,461.10) scale(1,1.044)" style="font-family:'Liberation Sans',sans-serif;font-weight:bold;font-size:23.20px;fill:#000">m</text>
<text x="275.83" y="468.06" text-anchor="middle" style="font-family:'Liberation Serif',serif;font-weight:normal;font-size:18.56px;fill:#000">ϕ</text>
<text x="284.61" y="460.17" text-anchor="middle" style="font-family:'Liberation Serif',serif;font-weight:normal;font-size:15.78px;fill:#000">0</text>
<text transform="translate(288.56,461.10) scale(1,1.044)" style="font-family:'Liberation Sans',sans-serif;font-weight:bold;font-size:23.20px;fill:#000"> </text>
<text transform="translate(295.00,464.35) scale(1,1.044)" style="font-family:'Liberation Sans',sans-serif;font-weight:bold;font-size:23.20px;fill:#000">=</text>
<text transform="translate(308.55,461.10) scale(1,1.044)" style="font-family:'Liberation Sans',sans-serif;font-weight:bold;font-size:23.20px;fill:#000"> 500 GeV</text>
<text transform="translate(406.57,461.10) scale(1,1.044)" style="font-family:'Liberation Sans',sans-serif;font-weight:bold;font-size:23.20px;fill:#000">; </text>
<text transform="translate(427.27,461.10) scale(1.17,1)" text-anchor="middle" style="font-family:'Liberation Serif',serif;font-weight:normal;font-size:23.20px;fill:#000">σ</text>
<text transform="translate(433.73,461.10) scale(1,1.044)" style="font-family:'Liberation Sans',sans-serif;font-weight:bold;font-size:23.20px;fill:#000">(p p </text>
<path d="M484.44,455.72 H503.43 M498.63,450.50 L504.15,455.72 L498.63,460.94" stroke="#000" stroke-width="1.44" fill="none" stroke-linecap="butt"/>
<text x="518.37" y="461.10" text-anchor="middle" style="font-family:'Liberation Serif',serif;font-weight:normal;font-size:23.20px;fill:#000">ϕ</text>
<text x="529.05" y="450.20" text-anchor="middle" style="font-family:'Liberation Serif',serif;font-weight:normal;font-size:18.56px;fill:#000">0</text>
<path d="M540.88,455.72 H559.87 M555.08,450.50 L560.59,455.72 L555.08,460.94" stroke="#000" stroke-width="1.44" fill="none" stroke-linecap="butt"/>
<text x="573.53" y="461.10" text-anchor="middle" style="font-family:'Liberation Serif',serif;font-weight:normal;font-size:23.20px;fill:#000">γ</text>
<text x="588.87" y="461.10" text-anchor="middle" style="font-family:'Liberation Serif',serif;font-weight:normal;font-size:23.20px;fill:#000">γ</text>
<text transform="translate(593.64,461.10) scale(1,1.044)" style="font-family:'Liberation Sans',sans-serif;font-weight:bold;font-size:23.20px;fill:#000">) </text>
<text transform="translate(607.81,464.35) scale(1,1.044)" style="font-family:'Liberation Sans',sans-serif;font-weight:bold;font-size:23.20px;fill:#000">=</text>
<text transform="translate(621.36,461.10) scale(1,1.044)" style="font-family:'Liberation Sans',sans-serif;font-weight:bold;font-size:23.20px;fill:#000"> 3.96 fb</text><path d="M715.0,454.05 H777.8" stroke="#006400" stroke-width="3.7" fill="none"/><text transform="translate(243.92,495.60) scale(1,1.044)" style="font-family:'Liberation Sans',sans-serif;font-weight:bold;font-size:23.20px;fill:#000">m</text>
<text x="269.39" y="502.56" text-anchor="middle" style="font-family:'Liberation Serif',serif;font-weight:normal;font-size:18.56px;fill:#000">ϕ</text>
<text x="278.17" y="494.67" text-anchor="middle" style="font-family:'Liberation Serif',serif;font-weight:normal;font-size:15.78px;fill:#000">0</text>
<text transform="translate(282.11,495.60) scale(1,1.044)" style="font-family:'Liberation Sans',sans-serif;font-weight:bold;font-size:23.20px;fill:#000"> </text>
<text transform="translate(288.56,498.85) scale(1,1.044)" style="font-family:'Liberation Sans',sans-serif;font-weight:bold;font-size:23.20px;fill:#000">=</text>
<text transform="translate(302.10,495.60) scale(1,1.044)" style="font-family:'Liberation Sans',sans-serif;font-weight:bold;font-size:23.20px;fill:#000"> 750 GeV</text>
<text transform="translate(400.13,495.60) scale(1,1.044)" style="font-family:'Liberation Sans',sans-serif;font-weight:bold;font-size:23.20px;fill:#000">; </text>
<text transform="translate(420.83,495.60) scale(1.17,1)" text-anchor="middle" style="font-family:'Liberation Serif',serif;font-weight:normal;font-size:23.20px;fill:#000">σ</text>
<text transform="translate(427.29,495.60) scale(1,1.044)" style="font-family:'Liberation Sans',sans-serif;font-weight:bold;font-size:23.20px;fill:#000"> (p p </text>
<path d="M484.44,490.22 H503.43 M498.63,485.00 L504.15,490.22 L498.63,495.44" stroke="#000" stroke-width="1.44" fill="none" stroke-linecap="butt"/>
<text x="518.37" y="495.60" text-anchor="middle" style="font-family:'Liberation Serif',serif;font-weight:normal;font-size:23.20px;fill:#000">ϕ</text>
<text x="529.05" y="484.70" text-anchor="middle" style="font-family:'Liberation Serif',serif;font-weight:normal;font-size:18.56px;fill:#000">0</text>
<path d="M540.88,490.22 H559.87 M555.08,485.00 L560.59,490.22 L555.08,495.44" stroke="#000" stroke-width="1.44" fill="none" stroke-linecap="butt"/>
<text x="573.53" y="495.60" text-anchor="middle" style="font-family:'Liberation Serif',serif;font-weight:normal;font-size:23.20px;fill:#000">γ</text>
<text x="588.87" y="495.60" text-anchor="middle" style="font-family:'Liberation Serif',serif;font-weight:normal;font-size:23.20px;fill:#000">γ</text>
<text transform="translate(593.64,495.60) scale(1,1.044)" style="font-family:'Liberation Sans',sans-serif;font-weight:bold;font-size:23.20px;fill:#000">) </text>
<text transform="translate(607.81,498.85) scale(1,1.044)" style="font-family:'Liberation Sans',sans-serif;font-weight:bold;font-size:23.20px;fill:#000">=</text>
<text transform="translate(621.36,495.60) scale(1,1.044)" style="font-family:'Liberation Sans',sans-serif;font-weight:bold;font-size:23.20px;fill:#000"> 2.13 fb</text><path d="M715.0,488.55 H777.8" stroke="#4b0082" stroke-width="3.7" fill="none"/>
</svg>
</body></html>
